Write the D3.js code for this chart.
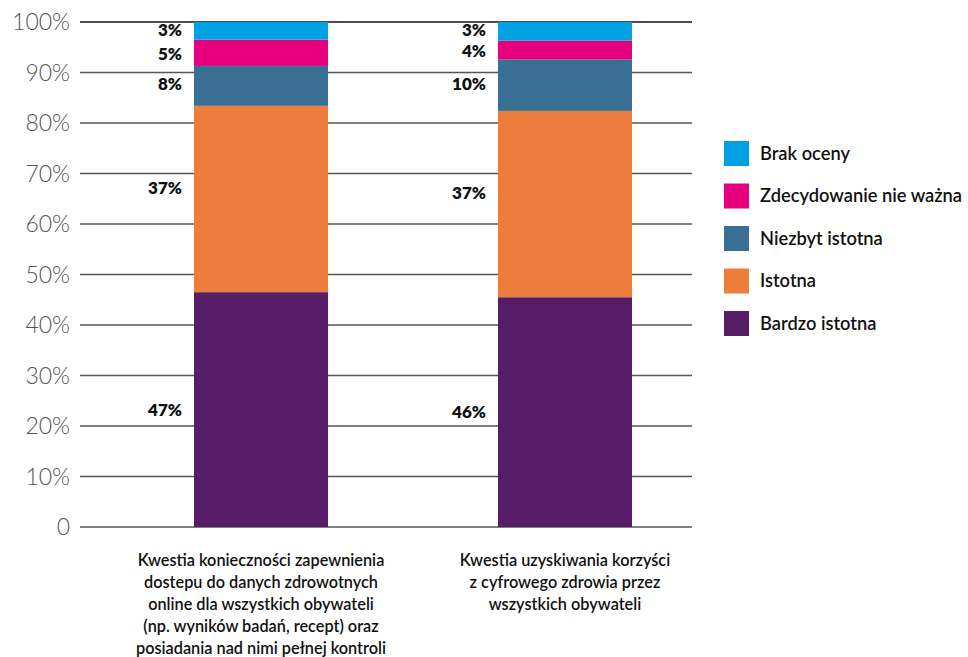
<!DOCTYPE html>
<html><head><meta charset="utf-8">
<script src="https://cdn.jsdelivr.net/npm/d3@7"></script>
<style>body{margin:0;background:#fff;} svg{display:block;}</style>
</head><body>
<svg id="c" width="968" height="657"></svg>
<script>
const categories = [
  ["Kwestia konieczności zapewnienia","dostepu do danych zdrowotnych","online dla wszystkich obywateli","(np. wyników badań, recept) oraz","posiadania nad nimi pełnej kontroli"],
  ["Kwestia uzyskiwania korzyści","z cyfrowego zdrowia przez","wszystkich obywateli"]
];
const seriesNames = ["Bardzo istotna","Istotna","Niezbyt istotna","Zdecydowanie nie ważna","Brak oceny"];
const seriesColors = ["#571c66","#ed7d3d","#386f92","#e6007e","#00a0e3"];
const bardzo = [46.5, 45.5];
const istotna = [36.9, 36.9];
const niezbyt = [7.9, 10.2];
const zdecydowanie = [5.2, 3.7];
const brak = [3.5, 3.7];
const labels = [
  ["47%","37%","8%","5%","3%"],
  ["46%","37%","10%","4%","3%"]
];
const tickValues = [0,10,20,30,40,50,60,70,80,90,100];
const tickLabels = ["0","10%","20%","30%","40%","50%","60%","70%","80%","90%","100%"];

const svg = d3.select("#c");
const y = d3.scaleLinear().domain([0,100]).range([527,22]);
const x = d3.scaleBand().domain([0,1]).range([80,746]).paddingInner(0.559).paddingOuter(0.375);

// gridlines
svg.append("g").selectAll("line").data(tickValues).join("line")
  .attr("x1",80).attr("x2",692)
  .attr("y1",d=>y(d)).attr("y2",d=>y(d))
  .attr("stroke",d=>d===100?"#111":"#555").attr("stroke-width",1.4);

// axis labels
svg.append("g").selectAll("text").data(tickValues).join("text")
  .attr("x",70).attr("y",d=>y(d)).attr("dy","0.35em")
  .attr("text-anchor","end")
  .attr("font-family","Lato").attr("font-weight",300).attr("font-size",23)
  .attr("fill","#555")
  .text((d,i)=>tickLabels[i]);

const data = [0,1].map(i=>({i, vals:[bardzo[i],istotna[i],niezbyt[i],zdecydowanie[i],brak[i]]}));
const stack = d3.stack().keys([0,1,2,3,4]).value((d,k)=>d.vals[k]);
const stacked = stack(data);
const labelShift = [0, -11, -1.5, 1.5, -1];

const g = svg.append("g");
stacked.forEach((layer,k)=>{
  g.selectAll(null).data(layer).join("rect")
    .attr("x",d=>x(d.data.i))
    .attr("width",x.bandwidth())
    .attr("y",d=>y(d[1]))
    .attr("height",d=>y(d[0])-y(d[1]))
    .attr("fill",seriesColors[k]);
  g.selectAll(null).data(layer).join("text")
    .attr("x",d=>x(d.data.i)-12)
    .attr("y",d=>y((d[0]+d[1])/2)+labelShift[k])
    .attr("dy","0.35em")
    .attr("text-anchor","end")
    .attr("font-family","Lato").attr("font-weight",800).attr("font-size",17)
    .attr("fill","#111")
    .text(d=>labels[d.data.i][k]);
});

// x labels
categories.forEach((lines,i)=>{
  const t = svg.append("text")
    .attr("x",x(i)+x.bandwidth()/2).attr("y",566)
    .attr("text-anchor","middle")
    .attr("font-family","Lato").attr("font-weight",600).attr("font-size",16.3)
    .attr("fill","#111");
  lines.forEach((l,j)=>t.append("tspan").attr("x",x(i)+x.bandwidth()/2).attr("y",566+j*22).text(l));
});

// legend
const legOrder = [4,3,2,1,0];
const lg = svg.append("g");
legOrder.forEach((k,j)=>{
  lg.append("rect").attr("x",724).attr("y",141+j*42.5).attr("width",25).attr("height",25).attr("fill",seriesColors[k]);
  lg.append("text").attr("x",760).attr("y",153.5+j*42.5).attr("dy","0.35em")
    .attr("font-family","Lato").attr("font-weight",600).attr("font-size",18.3).attr("fill","#111")
    .text(seriesNames[k]);
});
</script>
</body></html>
